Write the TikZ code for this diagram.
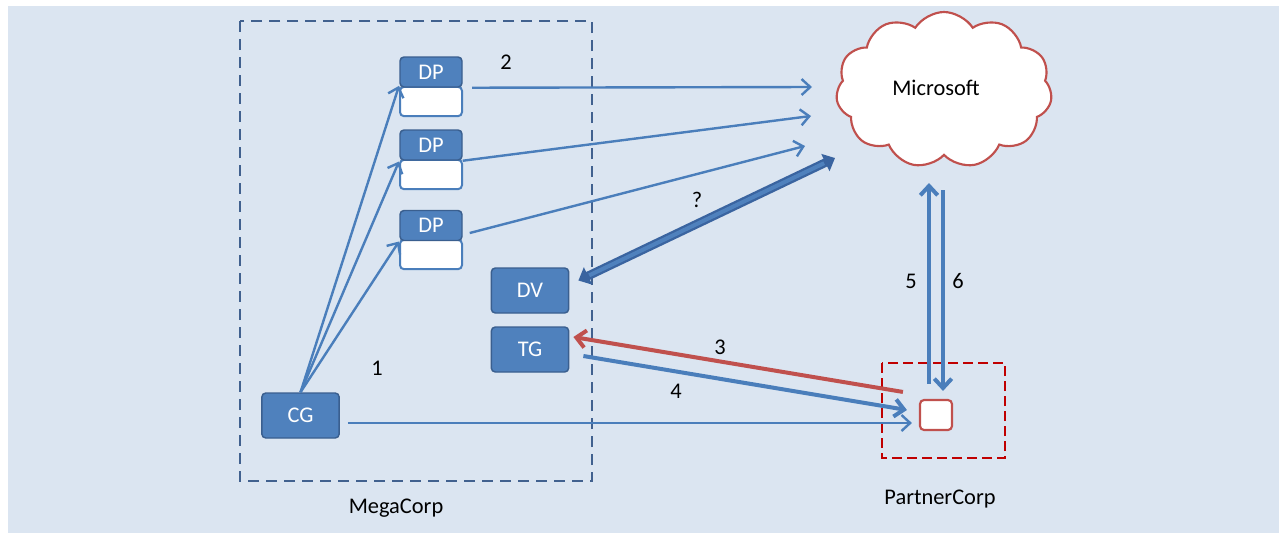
\documentclass[tikz,border=0pt]{standalone}
\usepackage{fontspec}
\setmainfont{Carlito}
\usetikzlibrary{arrows.meta,shapes.symbols}
\definecolor{bgc}{HTML}{DBE5F1}
\definecolor{nodefill}{HTML}{4F81BD}
\definecolor{nodedraw}{HTML}{3A5F8F}
\definecolor{arrowc}{HTML}{4A7EBB}
\definecolor{redc}{HTML}{C0504D}
\definecolor{darkred}{HTML}{C00000}
\definecolor{megac}{HTML}{41618F}
\definecolor{fatdark}{HTML}{3A64A0}
\begin{document}
\begin{tikzpicture}[x=0.75pt,y=-0.75pt,
  font=\fontsize{16.8}{20}\selectfont,
  box/.style={rectangle, rounded corners=3pt, fill=nodefill, draw=nodedraw, line width=1.1pt, text=white, inner sep=0pt},
  dpbox/.style={box, minimum width=46.5pt, minimum height=22.5pt},
  slot/.style={rectangle, rounded corners=3pt, fill=white, draw=arrowc, line width=1.5pt, inner sep=0pt, minimum width=46.5pt, minimum height=22pt},
  bigbox/.style={box, minimum width=58pt, minimum height=33.75pt},
  link/.style={draw=arrowc, line width=1.8pt, -{Straight Barb[length=6.5pt,width=12pt]}},
  heavy/.style={line width=3pt, -{Straight Barb[length=7pt,width=13pt]}},
  lbl/.style={text=black, inner sep=0pt}]
\fill[bgc] (8,6) rectangle (1279,533);
\useasboundingbox (0,0) rectangle (1279,533);

% containers
\draw[megac, line width=2.2pt, dash pattern=on 8pt off 5.5pt] (240,21) rectangle (592,481);
\draw[darkred, line width=2pt, dash pattern=on 7.5pt off 3.75pt] (882,363) rectangle (1005,458);
\node[lbl] (mega) at (396,508) {MegaCorp};
\node[lbl] (partner) at (940,499) {PartnerCorp};

% cloud
\node[cloud, cloud puffs=11, cloud puff arc=115, aspect=1.4, draw=redc, fill=white, line width=1.6pt,
      minimum width=162pt, minimum height=117pt, inner sep=0pt] (ms) at (944,90) {};
\node[lbl] (mstext) at (936,88) {Microsoft};

% DP boxes
\node[slot] (dp1b) at (431,101.5) {};
\node[dpbox] (dp1) at (431,72) {DP};
\node[slot] (dp2b) at (431,174.5) {};
\node[dpbox] (dp2) at (431,145) {DP};
\node[slot] (dp3b) at (431,254.5) {};
\node[dpbox] (dp3) at (431,225.5) {DP};

\node[bigbox] (dv) at (530,290.5) {DV};
\node[bigbox] (tg) at (530,349.5) {TG};
\node[bigbox] (cg) at (300.5,415.5) {CG};

\node[rectangle, rounded corners=3pt, fill=white, draw=redc, line width=1.6pt, minimum width=24pt, minimum height=22.5pt, inner sep=0pt] (psq) at (936,415) {};

% free ends near the cloud
\coordinate (m1) at (812,87);
\coordinate (m2) at (811,116);
\coordinate (m3) at (805,146);
\coordinate (mq) at (835,158);
\coordinate (c5) at (929,183);
\coordinate (c6) at (943,190);

% CG -> DP
\draw[link] (cg.north) -- (dp1b.north west);
\draw[link] (cg.north) -- ([yshift=-2]dp2b.north west);
\draw[link] (cg.north) -- ([yshift=-2]dp3b.north west);

% DP -> Microsoft
\draw[link] ([xshift=7]dp1.south east) -- (m1);
\draw[link] (dp2.south east) -- (m2);
\draw[link] ([shift={(7,7.5)}]dp3.east) -- (m3);

% fat double arrow
\draw[fatdark, line width=6.5pt, {Triangle[length=8pt,width=14pt]}-{Triangle[length=8pt,width=14pt]}] ([shift={(9,-10)}]dv.east) -- (mq);
\draw[nodefill, line width=3pt, shorten <=9pt, shorten >=9pt] ([shift={(9,-10)}]dv.east) -- (mq);

% CG -> partner
\draw[link] ([shift={(8,7.5)}]cg.east) -- ([shift={(-7,8)}]psq.west);

% 3 and 4
\draw[redc, heavy] ([shift={(-16,-7)}]psq.north west) -- ([shift={(4,-12.5)}]tg.east);
\draw[arrowc, heavy] ([shift={(14,6.5)}]tg.east) -- ([shift={(-12,-5)}]psq.west);

% 5 and 6
\draw[arrowc, heavy] ([shift={(-7,-15)}]psq.north) -- (c5);
\draw[arrowc, heavy] (c6) -- ([shift={(7,-8)}]psq.north);

% labels
\node[lbl] (l1) at (377,368) {1};
\node[lbl] (l2) at (506,62) {2};
\node[lbl] (l3) at (720,347) {3};
\node[lbl] (l4) at (676,391) {4};
\node[lbl] (l5) at (911,281) {5};
\node[lbl] (l6) at (958,281) {6};
\node[lbl] (lq) at (697,200) {?};
\end{tikzpicture}
\end{document}
